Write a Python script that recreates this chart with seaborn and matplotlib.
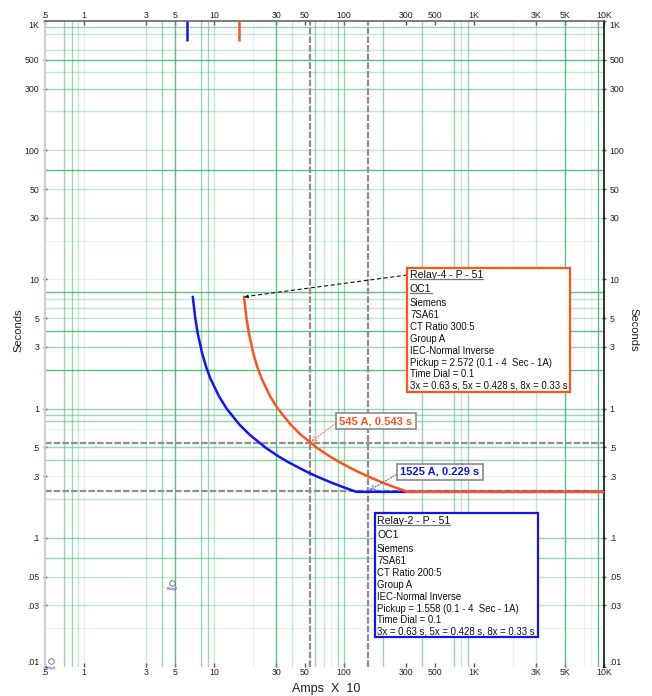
import matplotlib
matplotlib.use("Agg")
import matplotlib.pyplot as plt
import seaborn as sns
import pandas as pd
from matplotlib.lines import Line2D
from matplotlib.patches import Rectangle

# ---------------- data ----------------
relay2_amps = [6.855, 7.167, 7.478, 8.102, 8.725, 9.348, 10.906, 12.464, 15.58, 18.696,
               24.928, 31.16, 37.392, 49.856, 62.32, 81.016, 99.712, 124.64, 10000]
relay2_secs = [7.337, 5.001, 3.832, 2.661, 2.073, 1.719, 1.244, 1.003, 0.757, 0.630,
               0.498, 0.428, 0.384, 0.330, 0.297, 0.266, 0.2455, 0.2268, 0.2268]
relay4_amps = [16.975, 17.747, 18.518, 20.06, 21.60, 23.15, 27.00, 30.86, 38.58, 46.30,
               61.73, 77.16, 92.59, 123.5, 154.3, 200.6, 246.9, 308.6, 10000]
relay4_secs = [7.337, 5.001, 3.832, 2.661, 2.073, 1.719, 1.244, 1.003, 0.757, 0.630,
               0.498, 0.428, 0.384, 0.330, 0.297, 0.266, 0.2455, 0.2268, 0.2268]
pickup_amps = [6.232, 15.43]
pickup_marker_secs = [1000, 700]
cross_amps = [54.5, 152.5]
cross_secs = [0.543, 0.229]
cross_labels = ["545 A, 0.543 s", "1525 A, 0.229 s"]

x_ticks = [0.5, 1, 3, 5, 10, 30, 50, 100, 300, 500, 1000, 3000, 5000, 10000]
x_ticklabels = ['.5', '1', '3', '5', '10', '30', '50', '100', '300', '500', '1K', '3K', '5K', '10K']
y_ticks = [0.01, 0.03, 0.05, 0.1, 0.3, 0.5, 1, 3, 5, 10, 30, 50, 100, 300, 500, 1000]
y_ticklabels = ['.01', '.03', '.05', '.1', '.3', '.5', '1', '3', '5', '10', '30', '50',
                '100', '300', '500', '1K']

vgrid_strong = [5, 30, 5000, 9000]
vgrid_medium = [0.7, 0.8, 4, 8, 9, 60, 90, 100, 200, 400, 700, 900]
vgrid_light = [0.9, 3, 10, 40, 70, 800, 3000]
vgrid_faint = [1, 20, 80, 2000, 7000, 8000]
hgrid_strong = [500, 70, 8, 4, 2]
hgrid_medium = [900, 300, 3, 1, 0.9, 0.8, 0.5, 0.4, 0.1, 0.07]
hgrid_light = [800, 600, 400, 200, 100, 50, 30, 7, 6, 5, 0.2, 0.05, 0.03]
hgrid_faint = [10, 20, 0.7, 0.3, 0.02]

relay4_text = ["Relay-4 - P - 51", "OC1", "Siemens", "7SA61", "CT Ratio 300:5", "Group A",
               "IEC-Normal Inverse", "Pickup = 2.572 (0.1 - 4  Sec - 1A)", "Time Dial = 0.1",
               "3x = 0.63 s, 5x = 0.428 s, 8x = 0.33 s"]
relay2_text = ["Relay-2 - P - 51", "OC1", "Siemens", "7SA61", "CT Ratio 200:5", "Group A",
               "IEC-Normal Inverse", "Pickup = 1.558 (0.1 - 4  Sec - 1A)", "Time Dial = 0.1",
               "3x = 0.63 s, 5x = 0.428 s, 8x = 0.33 s"]

BLUE = "#1414f0"
ORANGE = "#ff531c"
GREEN = "#37b36a"

# ---------------- figure ----------------
sns.set_theme(style="white")
plt.rcParams['font.family'] = ['Liberation Sans', 'DejaVu Sans']

W, H = 652, 696
fig = plt.figure(figsize=(W / 100, H / 100), dpi=100)
fig.patch.set_facecolor("white")


def px(x, y):
    return (x / W, 1 - y / H)


L, R, T, B = 45, 604, 21, 667
ax = fig.add_axes([L / W, 1 - B / H, (R - L) / W, (B - T) / H])
ax.set_xscale("log")
ax.set_yscale("log")
ax.set_xlim(0.5, 10000)
ax.set_ylim(0.01, 1000)
ax.set_facecolor("white")

# grid
for vals, a in [(vgrid_faint, 0.13), (vgrid_light, 0.3), (vgrid_medium, 0.52), (vgrid_strong, 0.82)]:
    for v in vals:
        ax.axvline(v, color=GREEN, alpha=a, lw=1.0, zorder=1)
for vals, a in [(hgrid_faint, 0.13), (hgrid_light, 0.3), (hgrid_medium, 0.52), (hgrid_strong, 0.82)]:
    for v in vals:
        ax.axhline(v, color=GREEN, alpha=a, lw=1.0, zorder=1)

# crosshair lines
for v in cross_amps:
    ax.axvline(v, color="#909090", lw=1.6, ls=(0, (3, 0.9)), zorder=2)
for v in cross_secs:
    ax.axhline(v, color="#909090", lw=1.6, ls=(0, (3, 0.9)), zorder=2)

# curves
df = pd.concat([
    pd.DataFrame({"amps": relay2_amps, "secs": relay2_secs, "relay": "Relay-2"}),
    pd.DataFrame({"amps": relay4_amps, "secs": relay4_secs, "relay": "Relay-4"}),
])
sns.lineplot(data=df, x="amps", y="secs", hue="relay", hue_order=["Relay-2", "Relay-4"],
             palette=[BLUE, ORANGE], sort=False, estimator=None, legend=False,
             lw=1.8, ax=ax, zorder=4)

# pickup markers at top
for v, c in zip(pickup_amps, [BLUE, ORANGE]):
    ax.plot([v, v], pickup_marker_secs, color=c, lw=1.8, zorder=4, solid_capstyle="butt")

# ticks
ax.set_xticks(x_ticks)
ax.set_xticklabels(x_ticklabels)
ax.set_yticks(y_ticks)
ax.set_yticklabels(y_ticklabels)
ax.xaxis.set_minor_locator(matplotlib.ticker.NullLocator())
ax.yaxis.set_minor_locator(matplotlib.ticker.NullLocator())
ax.tick_params(axis="x", which="major", labelsize=6.3, length=3, width=1,
               color="#555555", direction="in", pad=0.8,
               top=True, bottom=True, labeltop=True, labelbottom=True)
ax.tick_params(axis="y", which="major", labelsize=6.3, length=3, width=1,
               color="#555555", direction="inout", pad=2.5,
               left=True, right=True, labelleft=True, labelright=True)
for lab in ax.get_xticklabels() + ax.get_yticklabels():
    lab.set_color("#222222")
ax.set_xlabel("")
ax.set_ylabel("")

# spines
ax.spines["left"].set_color("#d0d0d0")
ax.spines["left"].set_linewidth(1.6)
ax.spines["right"].set_color("#111111")
ax.spines["right"].set_linewidth(1.2)
ax.spines["top"].set_color("#666666")
ax.spines["top"].set_linewidth(1.2)
ax.spines["bottom"].set_visible(False)

# axis titles
fig.text(*px(18, 330), "Seconds", rotation=90, ha="center", va="center", fontsize=8, color="#222222")
fig.text(*px(633, 330), "Seconds", rotation=270, ha="center", va="center", fontsize=8, color="#222222")
fig.text(*px(326, 689), "Amps  X  10", ha="center", va="center", fontsize=9, color="#222222")

# tiny relay icons
ax.plot([4.75], [0.045], marker="o", ms=4, mfc="white", mec="#666666", mew=0.6, zorder=5)
ax.text(4.75, 0.040, "Relay2", fontsize=2.5, color=BLUE, ha="center", va="center", zorder=5)
ax.plot([0.56], [0.0112], marker="o", ms=4, mfc="white", mec="#666666", mew=0.6, zorder=5,
        clip_on=False)
ax.text(0.55, 0.0099, "Relay4", fontsize=2.5, color=BLUE, ha="center", va="center", zorder=5,
        clip_on=False)

# cross annotations
ax.annotate(cross_labels[0], xy=(cross_amps[0], cross_secs[0]), xycoords="data",
            xytext=(376, H - 421), textcoords="figure pixels",
            ha="center", va="center", fontsize=8, fontweight="bold", color=ORANGE,
            bbox=dict(boxstyle="square,pad=0.3", fc="white", ec="#8a8a8a", lw=1.2),
            arrowprops=dict(arrowstyle="->", ls=":", color="#ff7a50", lw=0.8,
                            relpos=(0, 0.55), shrinkA=0, shrinkB=1),
            zorder=6, annotation_clip=False)
ax.annotate(cross_labels[1], xy=(cross_amps[1], cross_secs[1]), xycoords="data",
            xytext=(440, H - 472), textcoords="figure pixels",
            ha="center", va="center", fontsize=8, fontweight="bold", color=BLUE,
            bbox=dict(boxstyle="square,pad=0.3", fc="white", ec="#8a8a8a", lw=1.2),
            arrowprops=dict(arrowstyle="->", ls=":", color="#5050ff", lw=0.8,
                            relpos=(0, 0.5), shrinkA=0, shrinkB=1),
            zorder=6, annotation_clip=False)

# leader for relay-4 box
ax.annotate("", xy=(relay4_amps[0], relay4_secs[0]), xycoords="data",
            xytext=(407, H - 275), textcoords="figure pixels",
            arrowprops=dict(arrowstyle="-|>", ls=(0, (3, 3)), color="#111111", lw=0.8,
                            mutation_scale=5, shrinkA=0, shrinkB=0),
            zorder=6, annotation_clip=False)


# info boxes
def info_box(x0, y0, x1, y1, color, tx, ty0, lines):
    fig.add_artist(Rectangle(px(x0, y1), (x1 - x0) / W, (y1 - y0) / H,
                             transform=fig.transFigure, fc="white", ec=color, lw=1.6, zorder=5))
    steps = [0, 14, 14, 12, 12, 12, 11.5, 12, 11.5, 12]
    y = ty0
    texts = []
    for i, (s, st) in enumerate(zip(lines, steps)):
        y += st
        fs = 7.6 if i < 2 else 6.9
        t = fig.text(*px(tx, y), s, ha="left", va="center", fontsize=fs,
                     color="#111111", zorder=6)
        texts.append(t)
    return texts


t4 = info_box(407, 268, 570, 392, ORANGE, 410, 275, relay4_text)
t2 = info_box(375, 513, 538, 637, BLUE, 377, 521, relay2_text)

fig.canvas.draw()
renderer = fig.canvas.get_renderer()
inv = fig.transFigure.inverted()
for t in [t4[0], t4[1], t2[0]]:
    bb = t.get_window_extent(renderer)
    (fx0, fy0), (fx1, _) = inv.transform([(bb.x0, bb.y0 + 1), (bb.x1, bb.y0 + 1)])
    fig.add_artist(Line2D([fx0, fx1], [fy0, fy0], transform=fig.transFigure,
                          color="#777777", lw=0.9, zorder=7))

# keep the end labels of the y axis inside the frame
yt = ax.yaxis.get_major_ticks()
for tk in yt:
    if abs(tk.get_loc() - 1000) < 1e-6:
        tk.label1.set_verticalalignment("top")
        tk.label2.set_verticalalignment("top")
    if abs(tk.get_loc() - 0.01) < 1e-9:
        tk.label1.set_verticalalignment("bottom")
        tk.label2.set_verticalalignment("bottom")

fig.savefig("out.png", dpi=100, facecolor="white")
